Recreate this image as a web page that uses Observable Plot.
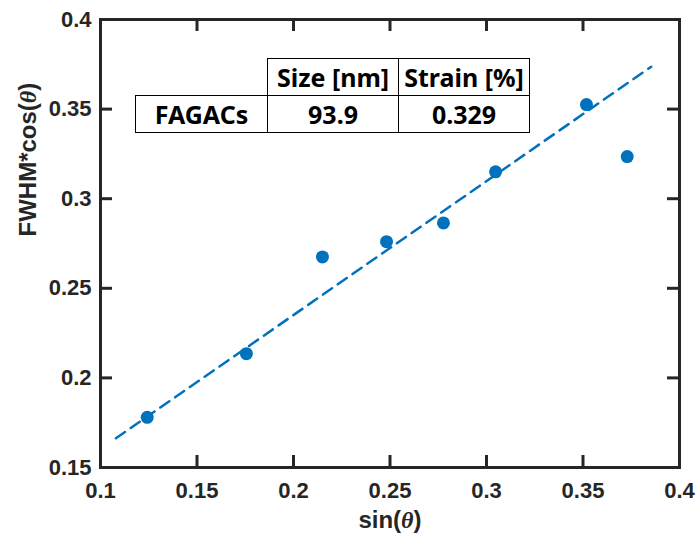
<!DOCTYPE html>
<html><head><meta charset="utf-8">
<script src="https://cdn.jsdelivr.net/npm/d3@7"></script>
<script src="https://cdn.jsdelivr.net/npm/@observablehq/plot@0.6"></script>
<style>
body{margin:0;background:#fff;}
#wrap{position:relative;width:697px;height:537px;}
#tbl{position:absolute;left:135px;top:58px;border-collapse:collapse;table-layout:fixed;font-family:"Noto Sans","Open Sans",sans-serif;font-weight:bold;font-size:25px;color:#000;}
#tbl td{border:1.5px solid #000;height:36px;padding:0;text-align:center;line-height:36px;}
#tbl td.empty{border:none;}
</style></head><body><div id="wrap"></div>
<script>
const sinTheta = [0.1242, 0.1756, 0.2150, 0.2482, 0.2777, 0.3047, 0.3518, 0.3729];
const fwhmCos  = [0.1780, 0.2135, 0.2675, 0.2760, 0.2865, 0.3150, 0.3525, 0.3235];
const fitX = [0.108, 0.3853];
const fitY = [0.1663, 0.3736];
const xTicks = [0.1, 0.15, 0.2, 0.25, 0.3, 0.35, 0.4];
const xTickLabels = ["0.1", "0.15", "0.2", "0.25", "0.3", "0.35", "0.4"];
const yTicks = [0.15, 0.2, 0.25, 0.3, 0.35, 0.4];
const yTickLabels = ["0.15", "0.2", "0.25", "0.3", "0.35", "0.4"];
const xLabel = "sin(θ)";
const yLabel = "FWHM*cos(θ)";
const tableHeader = ["", "Size [nm]", "Strain [%]"];
const tableRow = ["FAGACs", "93.9", "0.329"];
const colWidths = [132, 131, 131];

const points = sinTheta.map((x, i) => ({x, y: fwhmCos[i]}));
const fit = fitX.map((x, i) => ({x, y: fitY[i]}));
const axisColor = "#262626";
const blue = "#0072BD";

const W = 697, H = 537, mL = 100, mR = 18, mT = 19, mB = 70;
const frameW = W - mL - mR, frameH = H - mT - mB, tickLen = 12;

const chart = Plot.plot({
  width: W, height: H,
  marginLeft: mL, marginRight: mR, marginTop: mT, marginBottom: mB,
  style: {fontFamily: "'Liberation Sans', Arial, sans-serif", fontWeight: "bold", fontSize: "22px", color: axisColor, background: "#fff"},
  x: {domain: [0.1, 0.4]},
  y: {domain: [0.15, 0.4]},
  marks: [
    Plot.line(fit, {x: "x", y: "y", stroke: blue, strokeWidth: 2.5, strokeDasharray: "11,7"}),
    Plot.dot(points, {x: "x", y: "y", r: 6.5, fill: blue, stroke: "none"}),
    Plot.frame({stroke: axisColor, strokeWidth: 3}),
    Plot.ruleX(xTicks, {x: d => d, insetTop: frameH - tickLen, stroke: axisColor, strokeWidth: 3}),
    Plot.ruleX(xTicks, {x: d => d, insetBottom: frameH - tickLen, stroke: axisColor, strokeWidth: 3}),
    Plot.ruleY(yTicks, {y: d => d, insetRight: frameW - tickLen, stroke: axisColor, strokeWidth: 3}),
    Plot.ruleY(yTicks, {y: d => d, insetLeft: frameW - tickLen, stroke: axisColor, strokeWidth: 3}),
    Plot.axisX(xTicks, {anchor: "bottom", tickSize: 0, tickPadding: 15, tickFormat: d => xTickLabels[xTicks.indexOf(d)], label: null}),
    Plot.axisY(yTicks, {anchor: "left", tickSize: 0, tickPadding: 9, tickFormat: d => yTickLabels[yTicks.indexOf(d)], label: null}),
    Plot.text([xLabel], {text: d => d, frameAnchor: "bottom", dy: 53, lineAnchor: "middle", fontSize: 24}),
    Plot.text([yLabel], {text: d => d, frameAnchor: "left", dx: -72, dy: -7, rotate: -90, lineAnchor: "middle", fontSize: 24})
  ]
});

chart.querySelectorAll("text").forEach(t => {
  const s = t.textContent;
  if (!s.includes("θ") || t.children.length) return;
  const parts = s.split("θ");
  t.textContent = "";
  parts.forEach((p, i) => {
    if (i > 0) {
      const ts = document.createElementNS("http://www.w3.org/2000/svg", "tspan");
      ts.setAttribute("font-style", "italic");
      ts.setAttribute("font-family", "'Liberation Serif', serif");
      ts.textContent = "θ";
      t.appendChild(ts);
    }
    if (p) t.appendChild(document.createTextNode(p));
  });
});

const wrap = document.getElementById("wrap");
wrap.appendChild(chart);

const table = document.createElement("table");
table.id = "tbl";
const cg = document.createElement("colgroup");
colWidths.forEach(w => { const c = document.createElement("col"); c.style.width = w + "px"; cg.appendChild(c); });
table.appendChild(cg);
[tableHeader, tableRow].forEach(row => {
  const tr = document.createElement("tr");
  row.forEach(v => {
    const td = document.createElement("td");
    td.textContent = v;
    if (v === "") td.className = "empty";
    tr.appendChild(td);
  });
  table.appendChild(tr);
});
wrap.appendChild(table);
</script></body></html>
